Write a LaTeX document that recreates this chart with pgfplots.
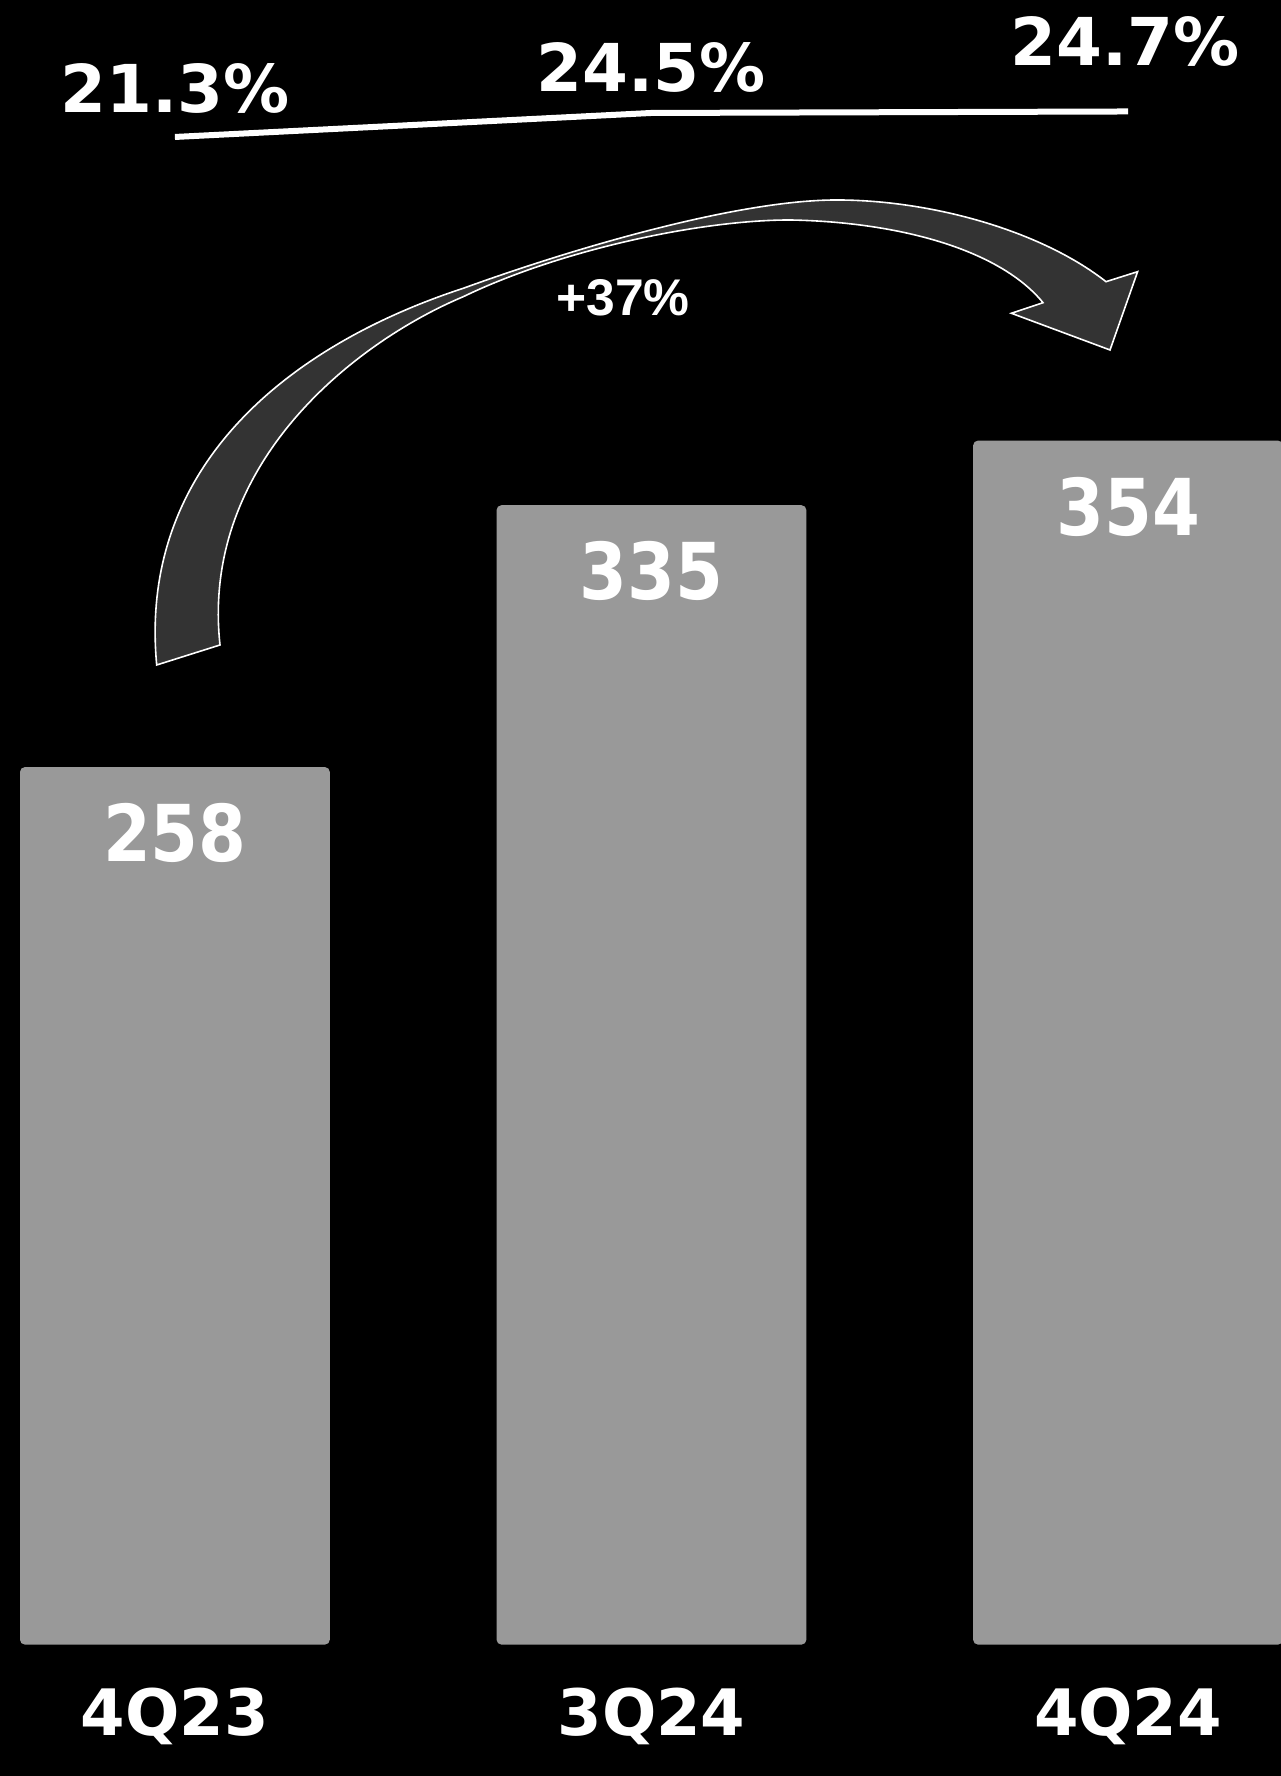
\documentclass[border=0pt]{standalone}
\usepackage{pgfplots}
\pgfplotsset{compat=1.18}
\usepackage{fontspec}
\setmainfont{DejaVu Sans}
\newfontfamily\arialb{Liberation Sans}
\definecolor{bargray}{RGB}{153,153,153}
\definecolor{arrowgray}{RGB}{51,51,51}
\begin{document}
\begin{tikzpicture}
\begin{axis}[
  at={(0,0)}, anchor=south west,
  width=320.25pt, height=444pt, scale only axis,
  xmin=-0.367, xmax=2.321, ymin=-38.64, ymax=483.56,
  axis background/.style={fill=black},
  axis line style={draw=none},
  major tick length=0pt,
  ytick=\empty,
  xtick={0,1,2},
  xticklabels={4Q23,3Q24,4Q24},
  xticklabel style={anchor=base, yshift=10.25pt, text=white, font=\bfseries\fontsize{16}{16}\selectfont},
  ybar, bar width=0.65,
  /pgf/number format/assume math mode=true,
  nodes near coords={\scalebox{1}[1.14]{\pgfmathprintnumber{\pgfplotspointmeta}}},
  every node near coord/.append style={anchor=center, yshift=-16.5pt, text=white, font=\bfseries\fontsize{17.2}{17.2}\selectfont},
]
\addplot[fill=bargray, draw=none, rounded corners=1.2pt] coordinates {(0,258) (1,335) (2,354)};
\end{axis}
\begin{axis}[
  at={(0,0)}, anchor=south west,
  width=320.25pt, height=444pt, scale only axis,
  xmin=-0.367, xmax=2.321, ymin=-197.23, ymax=39.567,
  hide axis, clip=false,
]
\addplot[white, line width=1.5pt, mark=none] coordinates {(0,21.3) (1,24.5) (2,24.7)};
\node[text=white, font=\bfseries\fontsize{16.5}{16.5}\selectfont] at (axis cs:0,21.3) [yshift=12pt] {21.3\%};
\node[text=white, font=\bfseries\fontsize{16.5}{16.5}\selectfont] at (axis cs:1,24.5) [yshift=11.4pt] {24.5\%};
\node[text=white, font=\bfseries\fontsize{16.5}{16.5}\selectfont] at (axis cs:2,24.7) [yshift=17.4pt, xshift=-0.75pt] {24.7\%};
\end{axis}
\begin{scope}[shift={(0,444pt)}, x=0.25pt, y=-0.25pt]
\filldraw[fill=arrowgray, draw=white, line width=0.4pt, line join=miter]
  (156.7,665) .. controls (138,465) and (290,345) .. (463.3,288.3)
  .. controls (580,246) and (740,200) .. (836.7,200)
  .. controls (930,200) and (1040,230) .. (1106,281.7)
  -- (1137.6,271.7) -- (1110,350) -- (1011.4,313.3) -- (1043,302.7)
  .. controls (1000,250) and (900,222) .. (790,220)
  .. controls (700,220) and (560,250) .. (463.3,296.7)
  .. controls (360,340) and (200,460) .. (220,645)
  -- cycle;
\node[text=white, font=\arialb\bfseries\fontsize{12.9}{12.9}\selectfont] at (623,298) {+37\%};
\end{scope}
\pgfresetboundingbox
\useasboundingbox (0,0) rectangle (320.25pt,444pt);
\end{tikzpicture}
\end{document}
